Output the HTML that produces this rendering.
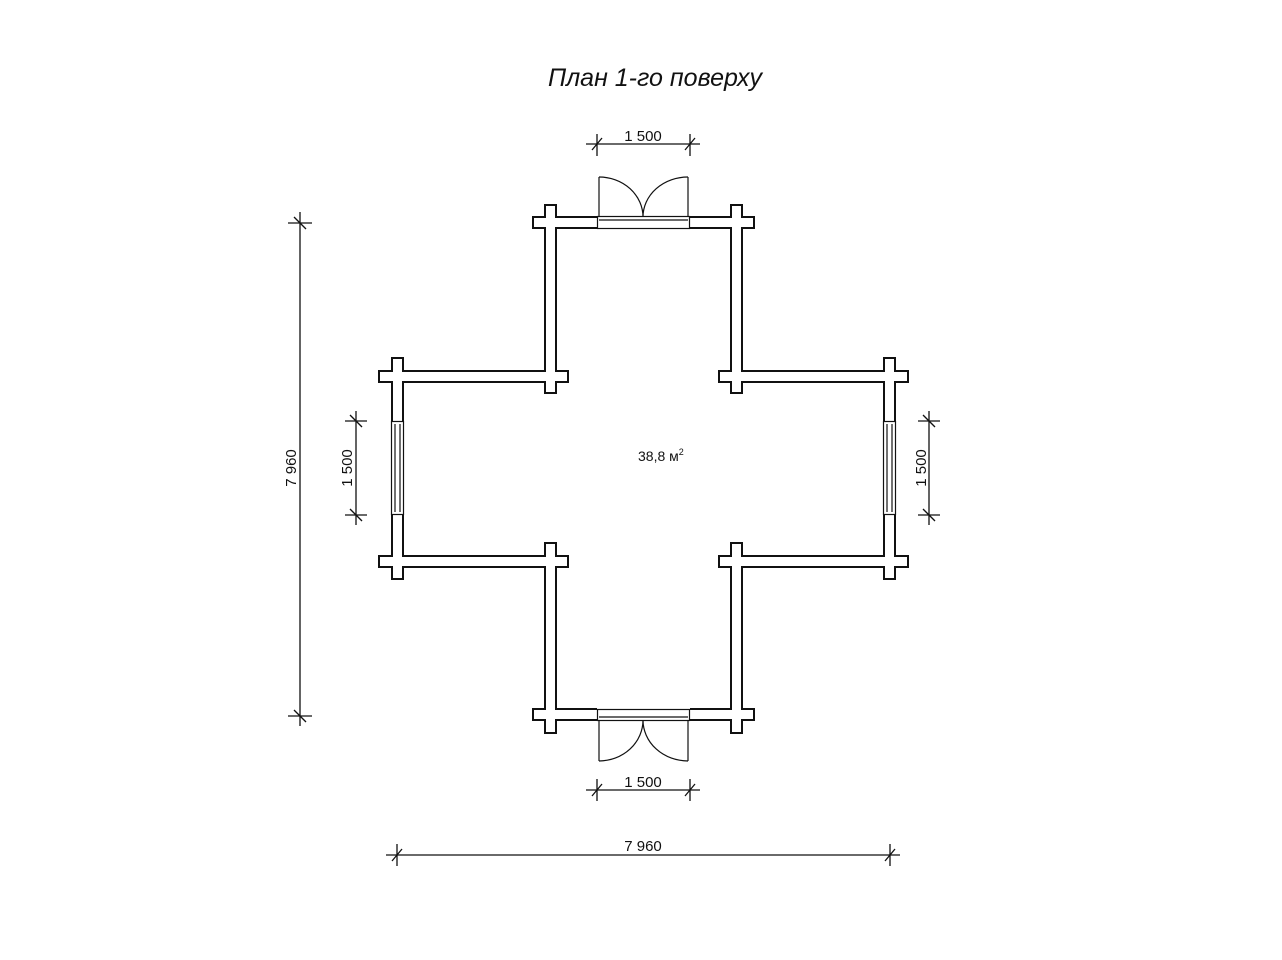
<!DOCTYPE html>
<html><head><meta charset="utf-8"><style>
html,body{margin:0;padding:0;background:#fff;}
svg{display:block;}
text{font-family:"Liberation Sans",sans-serif;fill:#111;}
</style></head><body>
<svg width="1282" height="960" viewBox="0 0 1282 960" xmlns="http://www.w3.org/2000/svg">
<text x="655" y="86" font-size="25" font-style="italic" text-anchor="middle">План 1-го поверху</text>

<g fill="#111">
  <rect x="532" y="216" width="67" height="13"/><rect x="688" y="216" width="67" height="13"/>
  <rect x="544" y="204" width="13" height="190"/><rect x="730" y="204" width="13" height="190"/>
  <rect x="378" y="370" width="191" height="13"/><rect x="718" y="370" width="191" height="13"/>
  <rect x="391" y="357" width="13" height="223"/><rect x="883" y="357" width="13" height="223"/>
  <rect x="378" y="555" width="191" height="13"/><rect x="718" y="555" width="191" height="13"/>
  <rect x="544" y="542" width="13" height="192"/><rect x="730" y="542" width="13" height="192"/>
  <rect x="532" y="708" width="67" height="13"/><rect x="688" y="708" width="67" height="13"/>
</g>
<g fill="#fff">
  <rect x="534" y="218" width="63" height="9"/><rect x="690" y="218" width="63" height="9"/>
  <rect x="546" y="206" width="9" height="186"/><rect x="732" y="206" width="9" height="186"/>
  <rect x="380" y="372" width="187" height="9"/><rect x="720" y="372" width="187" height="9"/>
  <rect x="393" y="359" width="9" height="219"/><rect x="885" y="359" width="9" height="219"/>
  <rect x="380" y="557" width="187" height="9"/><rect x="720" y="557" width="187" height="9"/>
  <rect x="546" y="544" width="9" height="188"/><rect x="732" y="544" width="9" height="188"/>
  <rect x="534" y="710" width="63" height="9"/><rect x="690" y="710" width="63" height="9"/>
  <rect x="597" y="215" width="93" height="15"/>
  <rect x="597" y="707" width="93" height="15"/>
  <rect x="390" y="421" width="15" height="94"/>
  <rect x="882" y="421" width="15" height="94"/>
</g>

<g fill="none" stroke="#111" stroke-width="1.2">
  <rect x="597.5" y="216.5" width="92" height="12"/>
  <line x1="599" y1="220" x2="688" y2="220"/>
  <line x1="599" y1="177" x2="599" y2="217"/><line x1="688" y1="177" x2="688" y2="217"/>
  <path d="M599 177 A44 40 0 0 1 643 217"/><path d="M688 177 A45 40 0 0 0 643 217"/>
  <rect x="597.5" y="709.5" width="92" height="11"/>
  <line x1="599" y1="717" x2="688" y2="717"/>
  <line x1="599" y1="720" x2="599" y2="761"/><line x1="688" y1="720" x2="688" y2="761"/>
  <path d="M599 761 A44 41 0 0 0 643 720"/><path d="M688 761 A45 41 0 0 1 643 720"/>
  <rect x="391.5" y="421.5" width="12" height="93"/>
  <line x1="395" y1="424" x2="395" y2="512"/><line x1="400" y1="424" x2="400" y2="512"/>
  <rect x="883.5" y="421.5" width="12" height="93"/>
  <line x1="887" y1="424" x2="887" y2="512"/><line x1="892" y1="424" x2="892" y2="512"/>
</g>

<g stroke="#111" stroke-width="1.3" fill="none">
  <line x1="586" y1="144" x2="700" y2="144"/>
  <line x1="597" y1="134" x2="597" y2="156"/><line x1="690" y1="134" x2="690" y2="156"/>
  <line x1="592" y1="150" x2="602" y2="138"/><line x1="685" y1="150" x2="695" y2="138"/>
  <line x1="586" y1="790" x2="700" y2="790"/>
  <line x1="597" y1="779" x2="597" y2="801"/><line x1="690" y1="779" x2="690" y2="801"/>
  <line x1="592" y1="796" x2="602" y2="784"/><line x1="685" y1="796" x2="695" y2="784"/>
  <line x1="386" y1="855" x2="900" y2="855"/>
  <line x1="397" y1="844" x2="397" y2="866"/><line x1="890" y1="844" x2="890" y2="866"/>
  <line x1="392" y1="861" x2="402" y2="849"/><line x1="885" y1="861" x2="895" y2="849"/>
  <line x1="300" y1="212" x2="300" y2="726"/>
  <line x1="288" y1="223" x2="312" y2="223"/><line x1="288" y1="716" x2="312" y2="716"/>
  <line x1="294" y1="217" x2="306" y2="229"/><line x1="294" y1="710" x2="306" y2="722"/>
  <line x1="356" y1="411" x2="356" y2="525"/>
  <line x1="345" y1="421" x2="367" y2="421"/><line x1="345" y1="515" x2="367" y2="515"/>
  <line x1="350" y1="415" x2="362" y2="427"/><line x1="350" y1="509" x2="362" y2="521"/>
  <line x1="929" y1="411" x2="929" y2="525"/>
  <line x1="918" y1="421" x2="940" y2="421"/><line x1="918" y1="515" x2="940" y2="515"/>
  <line x1="923" y1="415" x2="935" y2="427"/><line x1="923" y1="509" x2="935" y2="521"/>
</g>

<g font-size="15">
  <text x="643" y="141" text-anchor="middle">1 500</text>
  <text x="643" y="787" text-anchor="middle">1 500</text>
  <text x="643" y="851" text-anchor="middle">7 960</text>
  <text transform="translate(296 468) rotate(-90)" text-anchor="middle">7 960</text>
  <text transform="translate(352 468) rotate(-90)" text-anchor="middle">1 500</text>
  <text transform="translate(926 468) rotate(-90)" text-anchor="middle">1 500</text>
  <text x="638" y="461" font-size="14">38,8 м<tspan font-size="9" dy="-6">2</tspan></text>
</g>
</svg>
</body></html>
